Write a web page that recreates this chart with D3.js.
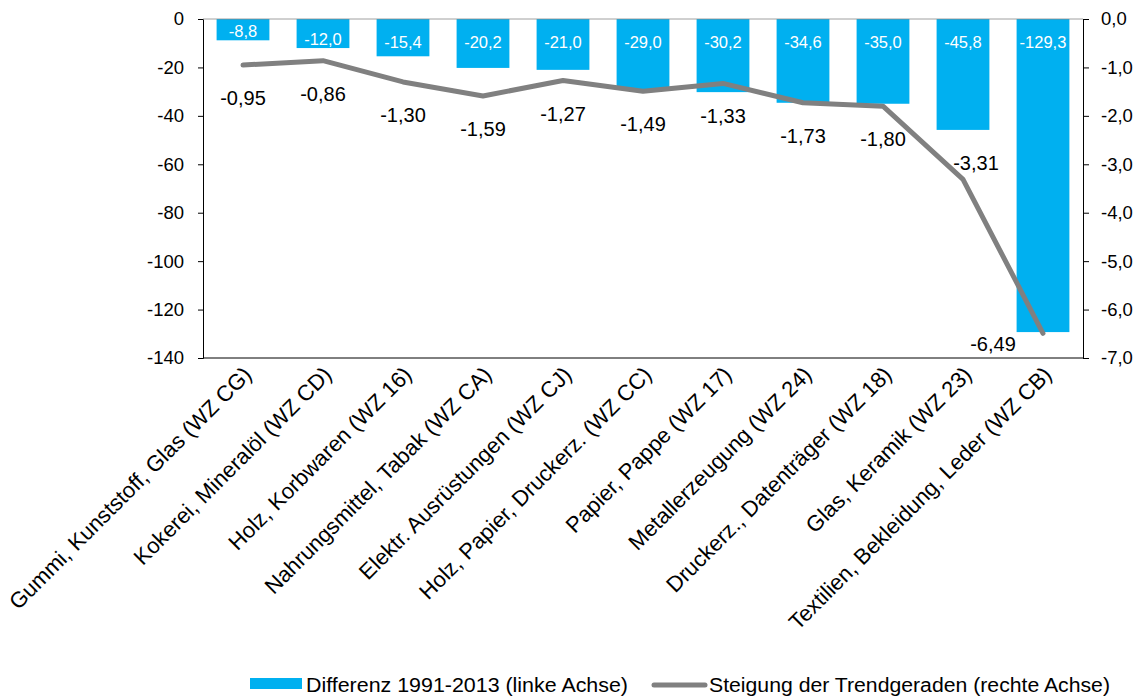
<!DOCTYPE html>
<html><head><meta charset="utf-8">
<script src="https://cdn.jsdelivr.net/npm/d3@7"></script>
<style>
body{margin:0;background:#fff;}
text{font-family:"Liberation Sans",Arial,sans-serif;}
</style></head>
<body>
<svg id="chart" width="1146" height="700"></svg>
<script>
const categories = ["Gummi, Kunststoff, Glas (WZ CG)","Kokerei, Mineralöl (WZ CD)","Holz, Korbwaren (WZ 16)","Nahrungsmittel, Tabak (WZ CA)","Elektr. Ausrüstungen (WZ CJ)","Holz, Papier, Druckerz. (WZ CC)","Papier, Pappe (WZ 17)","Metallerzeugung (WZ 24)","Druckerz., Datenträger (WZ 18)","Glas, Keramik (WZ 23)","Textilien, Bekleidung, Leder (WZ CB)"];
const differenz = [-8.8,-12.0,-15.4,-20.2,-21.0,-29.0,-30.2,-34.6,-35.0,-45.8,-129.3];
const steigung = [-0.95,-0.86,-1.30,-1.59,-1.27,-1.49,-1.33,-1.73,-1.80,-3.31,-6.49];
const leftTicks = [0,-20,-40,-60,-80,-100,-120,-140];
const rightTicks = [0,-1,-2,-3,-4,-5,-6,-7];
const lineLabelPlacement = ["below","below","below","below","below","below","below","below","below","above","left"];
const legendLabels = ["Differenz 1991-2013 (linke Achse)","Steigung der Trendgeraden (rechte Achse)"];

const svg = d3.select("#chart");
const m = {left:203, top:19, right:1083, bottom:358};
const BLUE = "#00B0F0", GREY = "#808080";
const fmt1 = v => d3.format(".1f")(v).replace(".", ",").replace("−","-");
const fmt2 = v => d3.format(".2f")(v).replace(".", ",").replace("−","-");

const x = d3.scaleBand().domain(categories).range([m.left, m.right]).paddingInner(0.34).paddingOuter(0.17);
const yL = d3.scaleLinear().domain([-140,0]).range([m.bottom, m.top]);
const yR = d3.scaleLinear().domain([-7,0]).range([m.bottom, m.top]);

// bars
svg.append("g").selectAll("rect").data(differenz).join("rect")
  .attr("x",(d,i)=>x(categories[i])).attr("width",x.bandwidth())
  .attr("y",yL(0)).attr("height",d=>yL(d)-yL(0)).attr("fill",BLUE);

// bar labels
svg.append("g").selectAll("text").data(differenz).join("text")
  .attr("x",(d,i)=>x(categories[i])+x.bandwidth()/2)
  .attr("y",d=>Math.min(yL(0)+29, yL(d)-3))
  .attr("text-anchor","middle").attr("fill","#fff").attr("font-size",16.5)
  .text(d=>fmt1(d));

// axes
const axL = svg.append("g").attr("transform",`translate(${m.left},0)`)
  .call(d3.axisLeft(yL).tickValues(leftTicks).tickSize(5).tickPadding(14).tickFormat(d=>String(d)));
const axR = svg.append("g").attr("transform",`translate(${m.right},0)`)
  .call(d3.axisRight(yR).tickValues(rightTicks).tickSize(6).tickPadding(12).tickFormat(d=>fmt1(d)));
[axL,axR].forEach(a=>{
  a.select(".domain").attr("stroke","#000");
  a.selectAll(".tick line").attr("stroke","#000");
  a.selectAll(".tick text").attr("font-size",18.5).attr("fill","#000").attr("font-family","Liberation Sans, Arial, sans-serif");
});
// bottom line and zero line
svg.append("line").attr("x1",m.left).attr("x2",m.right).attr("y1",m.bottom).attr("y2",m.bottom).attr("stroke","#000");
svg.append("line").attr("x1",m.left).attr("x2",m.right).attr("y1",yL(0)).attr("y2",yL(0)).attr("stroke","#888").attr("stroke-width",0.8);

// category labels
svg.append("g").selectAll("text").data(categories).join("text")
  .attr("transform",d=>`translate(${x(d)+x.bandwidth()/2+10},${m.bottom+18}) rotate(-45)`)
  .attr("text-anchor","end").attr("font-size",22).attr("fill","#000")
  .text(d=>d);

// line
const line = d3.line().x((d,i)=>x(categories[i])+x.bandwidth()/2).y(d=>yR(d));
svg.append("path").datum(steigung).attr("d",line).attr("fill","none")
  .attr("stroke",GREY).attr("stroke-width",5).attr("stroke-linejoin","round").attr("stroke-linecap","round");

// line labels
const off = {below:[0,40], above:[13,-9], left:[-50,18]};
svg.append("g").selectAll("text").data(steigung).join("text")
  .attr("x",(d,i)=>x(categories[i])+x.bandwidth()/2+off[lineLabelPlacement[i]][0])
  .attr("y",(d,i)=>yR(d)+off[lineLabelPlacement[i]][1])
  .attr("text-anchor","middle").attr("font-size",20).attr("fill","#000")
  .text(d=>fmt2(d));

// legend
const lg = svg.append("g");
lg.append("rect").attr("x",250).attr("y",678).attr("width",52).attr("height",11).attr("fill",BLUE);
lg.append("text").attr("x",306).attr("y",692).attr("font-size",20).attr("textLength",322).attr("lengthAdjust","spacingAndGlyphs").attr("fill","#000").text(legendLabels[0]);
lg.append("line").attr("x1",654).attr("x2",705).attr("y1",685).attr("y2",685).attr("stroke",GREY).attr("stroke-width",5).attr("stroke-linecap","round");
lg.append("text").attr("x",709).attr("y",692).attr("font-size",20).attr("textLength",401).attr("lengthAdjust","spacingAndGlyphs").attr("fill","#000").text(legendLabels[1]);
</script>
</body></html>
